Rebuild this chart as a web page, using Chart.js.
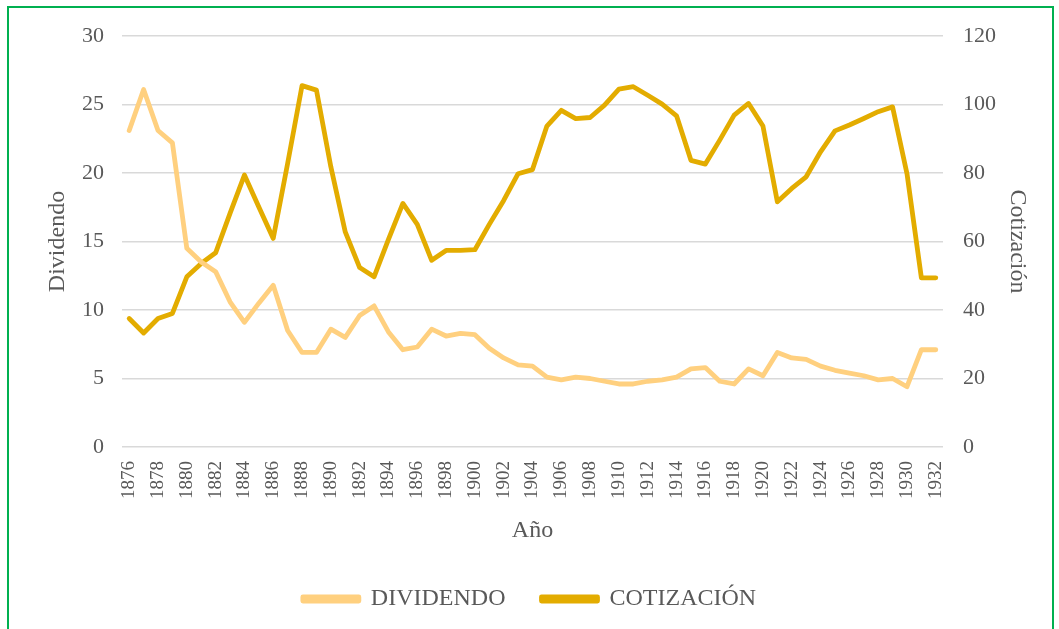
<!DOCTYPE html>
<html>
<head>
<meta charset="utf-8">
<script src="https://cdn.jsdelivr.net/npm/chart.js@4"></script>
<style>
  html, body { margin: 0; padding: 0; background: #fff; }
  body { width: 1059px; height: 629px; position: relative; overflow: hidden; }
  #frame {
    position: absolute; left: 7px; top: 6px; width: 1043px; height: 660px;
    border: 2px solid #00b050;
  }
  #wrap { position: absolute; left: 0; top: 0; width: 1059px; height: 629px; }
</style>
</head>
<body>
<div id="frame"></div>
<div id="wrap"><canvas id="chart" width="1059" height="629"></canvas></div>
<script>
// --------------------------
// Data
// --------------------------
const years = [];
for (let y = 1876; y <= 1932; y++) years.push(String(y));

const dividendo = [
  23.1, 26.1, 23.1, 22.2, 14.5, 13.5, 12.8, 10.6, 9.1, 10.5,
  11.8, 8.5, 6.9, 6.9, 8.6, 8.0, 9.6, 10.3, 8.4, 7.1,
  7.3, 8.6, 8.1, 8.3, 8.2, 7.2, 6.5, 6.0, 5.9, 5.1,
  4.9, 5.1, 5.0, 4.8, 4.6, 4.6, 4.8, 4.9, 5.1, 5.7,
  5.8, 4.8, 4.6, 5.7, 5.2, 6.9, 6.5, 6.4, 5.9, 5.6,
  5.4, 5.2, 4.9, 5.0, 4.4, 7.1, 7.1
];

const cotizacion = [
  37.5, 33.3, 37.5, 39.0, 49.7, 53.6, 56.7, 68.2, 79.4, 70.1,
  60.9, 82.8, 105.5, 104.2, 81.8, 62.8, 52.4, 49.7, 60.6, 71.1,
  65.0, 54.5, 57.4, 57.4, 57.6, 65.0, 72.0, 79.8, 81.0, 93.7,
  98.3, 95.9, 96.2, 99.8, 104.5, 105.2, 102.7, 100.1, 96.7, 83.7,
  82.6, 89.6, 96.9, 100.3, 93.7, 71.6, 75.5, 78.9, 86.2, 92.3,
  94.0, 95.9, 97.9, 99.3, 79.8, 49.4, 49.4
];

const colorDiv = "#ffd07f";
const colorCot = "#e3ac00";
const textColor = "#595959";
const serif = "'Liberation Serif', 'DejaVu Serif', serif";

// --------------------------
// Chart
// --------------------------
new Chart(document.getElementById("chart"), {
  type: "line",
  data: {
    labels: years,
    datasets: [
      {
        label: "DIVIDENDO",
        data: dividendo,
        yAxisID: "y",
        borderColor: colorDiv,
        backgroundColor: colorDiv,
        borderWidth: 4.8,
        pointRadius: 0,
        borderCapStyle: "round",
        borderJoinStyle: "round",
        tension: 0,
      },
      {
        label: "COTIZACIÓN",
        data: cotizacion,
        yAxisID: "y1",
        borderColor: colorCot,
        backgroundColor: colorCot,
        borderWidth: 4.8,
        pointRadius: 0,
        borderCapStyle: "round",
        borderJoinStyle: "round",
        tension: 0,
      },
    ],
  },
  options: {
    responsive: false,
    animation: false,
    layout: { padding: { top: 36, bottom: 8, left: 0, right: 0 } },
    plugins: {
      tooltip: { enabled: false },
      legend: {
        display: true,
        position: "bottom",
        labels: {
          color: textColor,
          font: { family: serif, size: 24 },
          boxWidth: 56,
          boxHeight: 4,
          padding: 36,
        },
      },
    },
    scales: {
      x: {
        offset: true,
        grid: { display: false },
        border: { display: false },
        ticks: {
          color: textColor,
          font: { family: serif, size: 19 },
          autoSkip: false,
          maxRotation: 90,
          minRotation: 90,
          padding: 6,
          callback: function (val, i) {
            return i % 2 === 0 ? this.getLabelForValue(val) : "";
          },
        },
        title: {
          display: true,
          text: "Año",
          color: textColor,
          font: { family: serif, size: 24 },
          padding: { top: 4, bottom: 6 },
        },
        afterFit: (scale) => { scale.height = 104; },
      },
      y: {
        position: "left",
        min: 0,
        max: 30,
        ticks: {
          stepSize: 5,
          color: textColor,
          font: { family: serif, size: 22 },
          padding: 18,
        },
        grid: { color: "#d9d9d9", lineWidth: 1.5, drawTicks: false },
        border: { display: false },
        title: {
          display: true,
          text: "Dividendo",
          color: textColor,
          font: { family: serif, size: 24 },
          padding: { top: 43, bottom: 0 },
        },
        afterFit: (scale) => { scale.width = 122; },
      },
      y1: {
        position: "right",
        min: 0,
        max: 120,
        ticks: {
          stepSize: 20,
          color: textColor,
          font: { family: serif, size: 22 },
          padding: 20,
        },
        grid: { display: false, drawTicks: false },
        border: { display: false },
        title: {
          display: true,
          text: "Cotización",
          color: textColor,
          font: { family: serif, size: 24 },
          padding: { top: 27, bottom: 0 },
        },
        afterFit: (scale) => { scale.width = 116; },
      },
    },
  },
});
</script>
</body>
</html>
